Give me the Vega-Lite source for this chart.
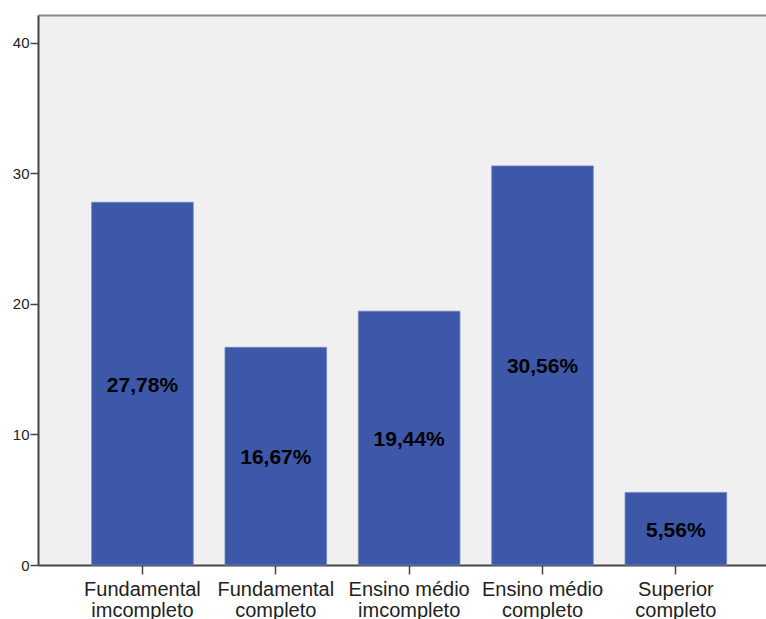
{
  "$schema": "https://vega.github.io/schema/vega-lite/v6.json",
  "autosize": "none",
  "width": 728,
  "height": 550,
  "padding": {"left": 38, "top": 15, "right": 0, "bottom": 54},
  "background": "white",
  "data": {
    "values": [
      {"nivel": "Fundamental imcompleto", "pct": 27.78, "rotulo": "27,78%"},
      {"nivel": "Fundamental completo", "pct": 16.67, "rotulo": "16,67%"},
      {"nivel": "Ensino médio imcompleto", "pct": 19.44, "rotulo": "19,44%"},
      {"nivel": "Ensino médio completo", "pct": 30.56, "rotulo": "30,56%"},
      {"nivel": "Superior completo", "pct": 5.56, "rotulo": "5,56%"}
    ]
  },
  "layer": [
    {
      "mark": {"type": "bar", "color": "#3d58a9", "stroke": "#7186c4", "strokeWidth": 0.8},
      "encoding": {
        "x": {
          "field": "nivel",
          "type": "nominal",
          "sort": null,
          "title": null,
          "scale": {"paddingInner": 0.238, "paddingOuter": 0.3486, "align": 0.577},
          "axis": {
            "labelAngle": 0,
            "labelExpr": "[slice(datum.label, 0, lastindexof(datum.label, ' ')), slice(datum.label, lastindexof(datum.label, ' ') + 1)]",
            "labelFont": "Liberation Sans",
            "labelFontSize": 20,
            "labelLineHeight": 21,
            "labelColor": "#222222",
            "labelPadding": 5,
            "tickSize": 9,
            "tickColor": "#444444",
            "tickWidth": 1.5,
            "domainColor": "#444444",
            "domainWidth": 2,
            "labelOverlap": false,
            "labelBound": false
          }
        },
        "y": {
          "field": "pct",
          "type": "quantitative",
          "title": null,
          "scale": {"domain": [0, 42.12], "nice": false},
          "axis": {
            "values": [0, 10, 20, 30, 40],
            "grid": false,
            "labelFont": "Liberation Sans",
            "labelFontSize": 15,
            "labelColor": "#222222",
            "labelPadding": 1,
            "tickSize": 8,
            "tickColor": "#444444",
            "tickWidth": 1.5,
            "domainColor": "#444444",
            "domainWidth": 2
          }
        }
      }
    },
    {
      "transform": [{"calculate": "datum.pct / 2", "as": "meio"}],
      "mark": {"type": "text", "font": "Liberation Sans", "fontSize": 21, "fontWeight": "bold", "color": "#000000", "baseline": "middle", "dy": 2},
      "encoding": {
        "x": {
          "field": "nivel",
          "type": "nominal",
          "sort": null,
          "title": null,
          "axis": {
            "orient": "top",
            "labels": false,
            "ticks": false,
            "domain": true,
            "domainColor": "#8a8a8a",
            "domainWidth": 2
          }
        },
        "y": {"field": "meio", "type": "quantitative"},
        "text": {"field": "rotulo", "type": "nominal"}
      }
    }
  ],
  "resolve": {"axis": {"x": "independent"}},
  "config": {
    "view": {"fill": "#f0f0f0", "stroke": null}
  }
}
